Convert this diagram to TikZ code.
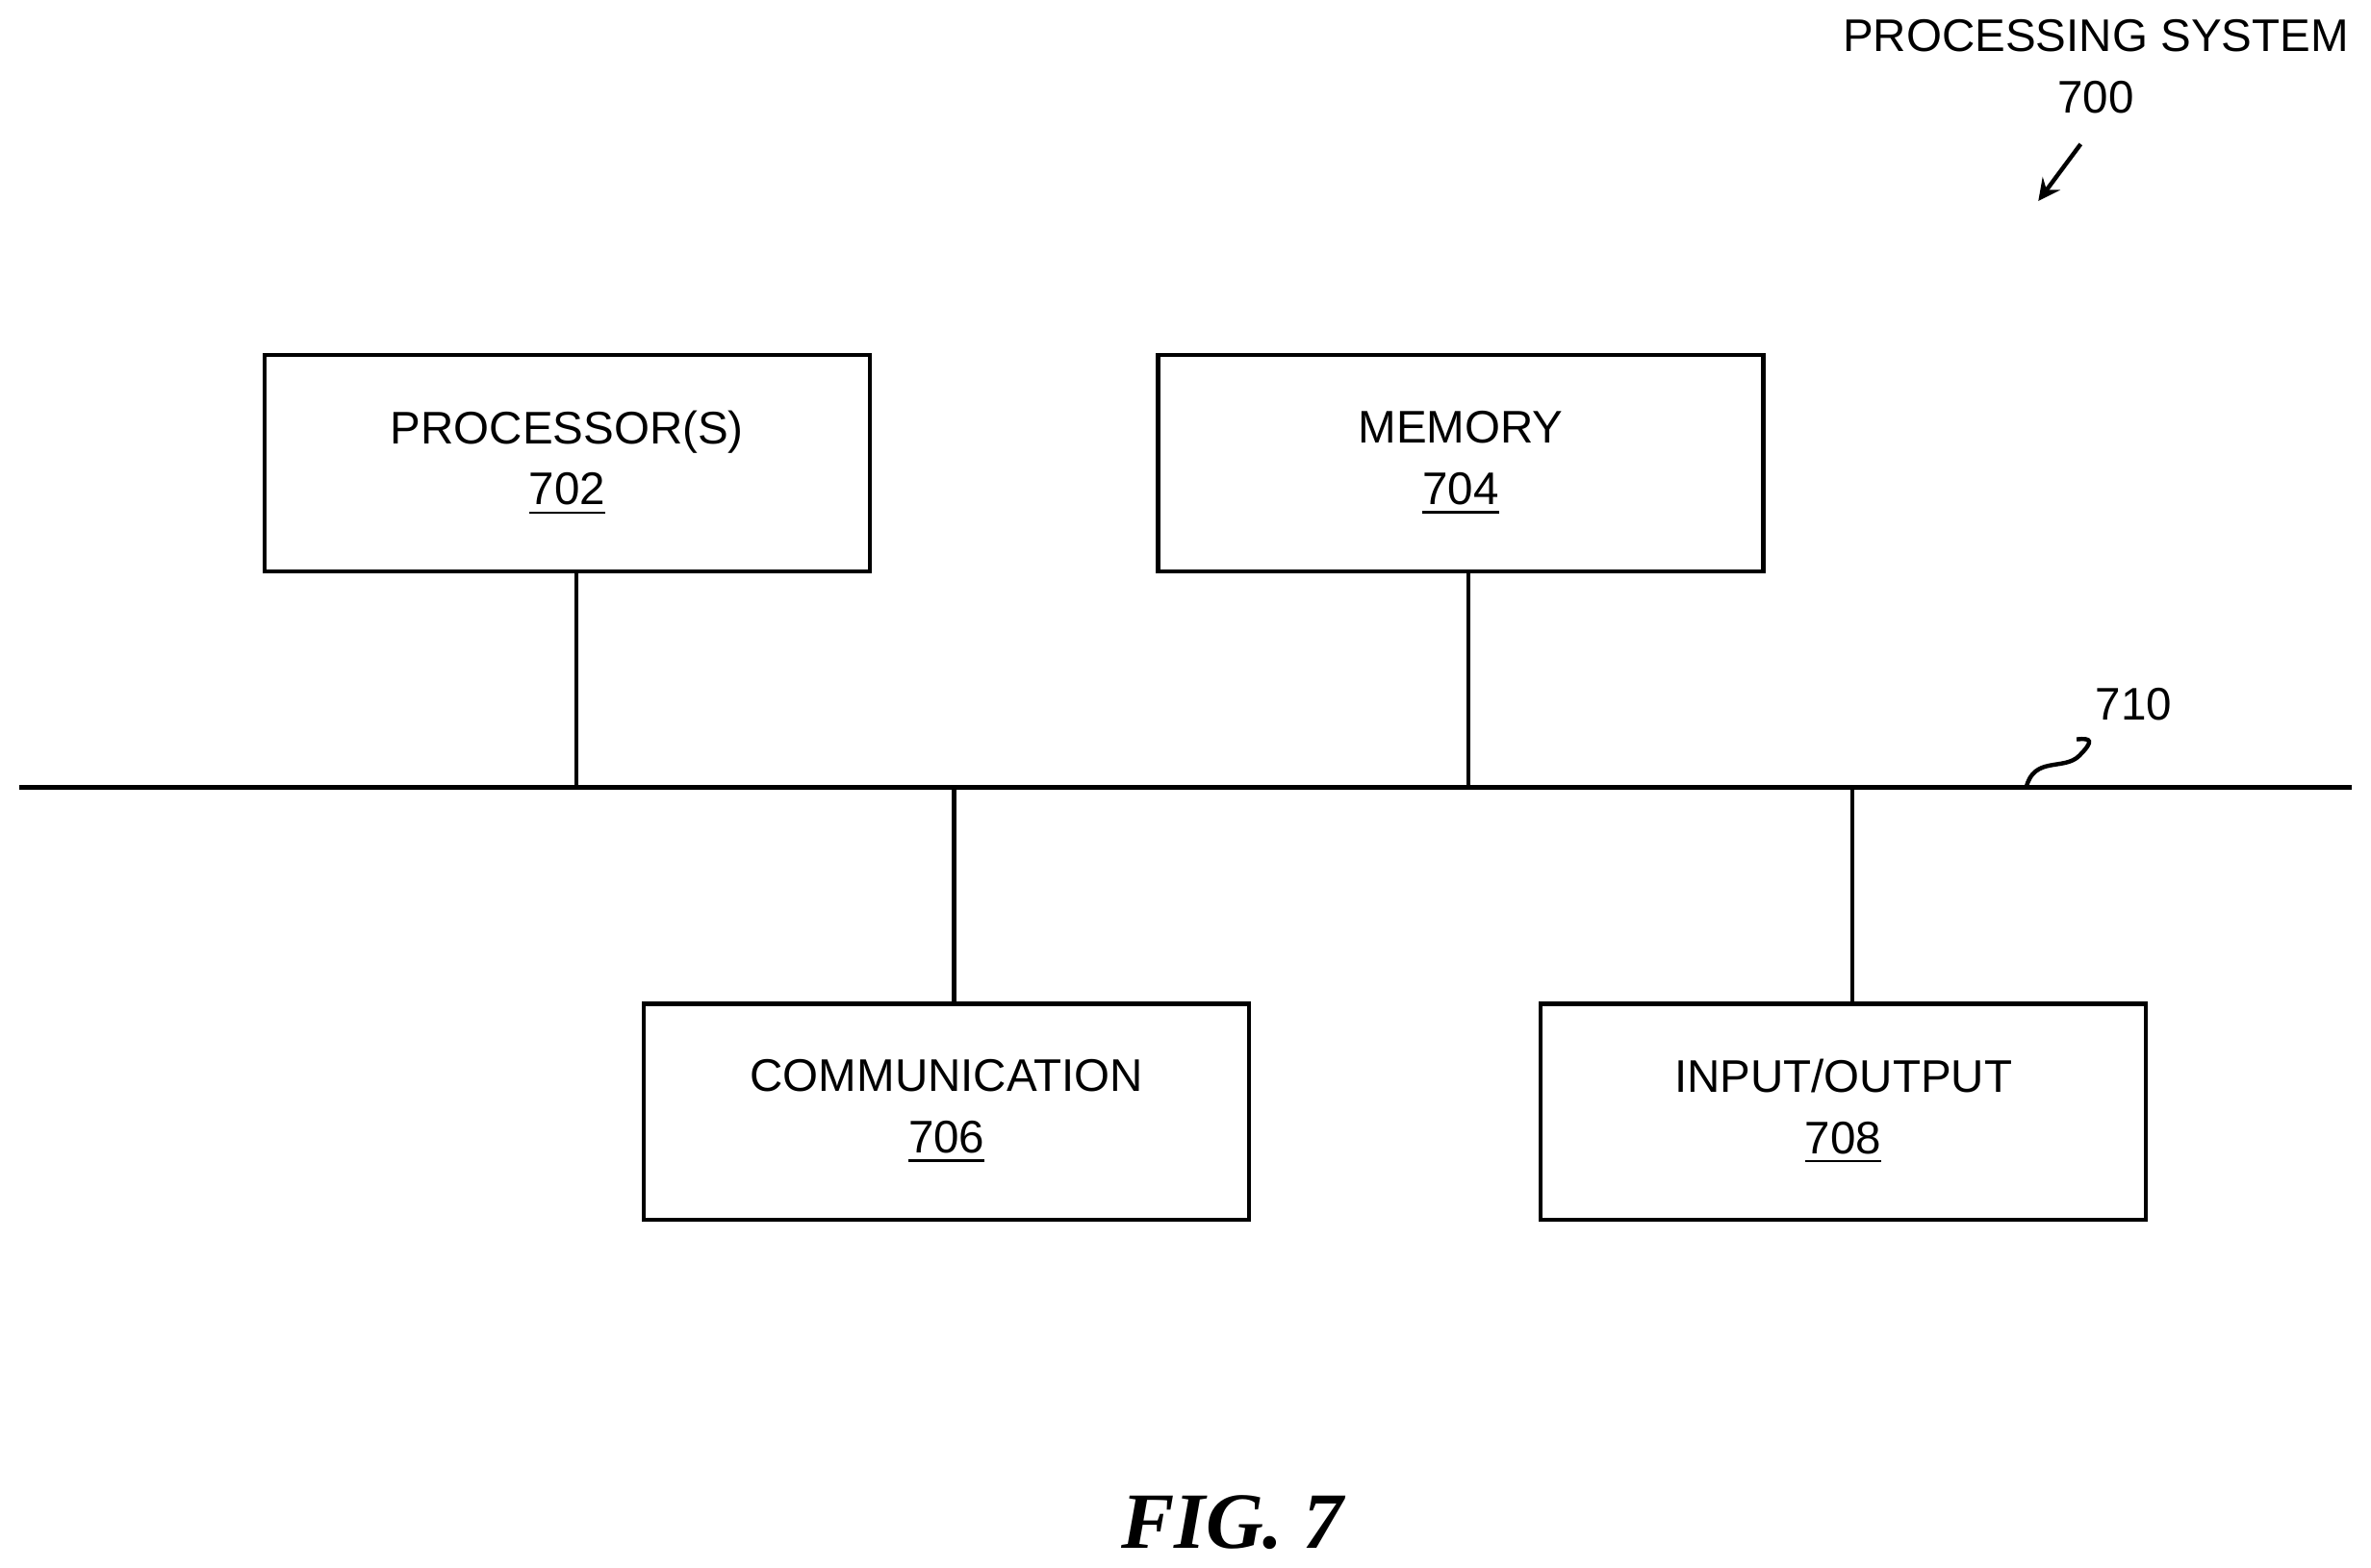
\documentclass[tikz,border=0pt]{standalone}
\usepackage{fontspec}
\setmainfont{Liberation Sans}
\newfontfamily\figfont{Liberation Serif}
\usetikzlibrary{positioning,calc}

\tikzset{
  block/.style={draw, line width=0.8pt, minimum width=4cm, minimum height=1.43cm,
    align=center, font=\fontsize{8.6}{11.5}\selectfont},
  wire/.style={line width=0.8pt},
}

\begin{document}
\begin{tikzpicture}[x=0.01cm,y=-0.01cm]
  \useasboundingbox (0,0) rectangle (1568,1037);
  % blocks
  \node (proc) [block] at (375,306.5) {PROCESSOR(S)\\\underline{702}};
  \node (mem)  [block] at (966,306.5) {MEMORY\\\underline{704}};
  \node (comm) [block] at (626,735.5) {COMMUNICATION\\\underline{706}};
  \node (io)   [block] at (1219,735.5) {INPUT/OUTPUT\\\underline{708}};
  % bus
  \coordinate (busL) at (13,521);
  \coordinate (busR) at (1555,521);
  \draw[wire] (busL) -- (busR);
  \coordinate (tapP) at (381,521);
  \coordinate (tapM) at (971,521);
  \coordinate (tapC) at (631,521);
  \coordinate (tapI) at (1225,521);
  \draw[wire] (proc.south -| tapP) -- (tapP);
  \draw[wire] (mem.south -| tapM) -- (tapM);
  \draw[wire] (comm.north -| tapC) -- (tapC);
  \draw[wire] (io.north -| tapI) -- (tapI);
  % bus label
  \node (buslbl) [font=\fontsize{8.6}{10}\selectfont] at (1411,466) {710};
  \coordinate (sq) at (1340,521);
  \draw[wire] (sq) .. controls (1345,500) and (1365,510) .. (1375,500)
    .. controls (1385,490) and (1383,488) .. (buslbl.south west);
  % title
  \node (title) [align=center, font=\fontsize{8.6}{11.5}\selectfont] at (1386,44)
    {PROCESSING SYSTEM\\700};
  \coordinate (tip) at (1348,133);
  \draw[wire,->,>=stealth] ($(title.south)+(-10,8)$) -- (tip);
  % caption
  \node (fig) [font=\figfont\bfseries\itshape\fontsize{15}{18}\selectfont] at (815,1007) {FIG. 7};
\end{tikzpicture}
\end{document}
